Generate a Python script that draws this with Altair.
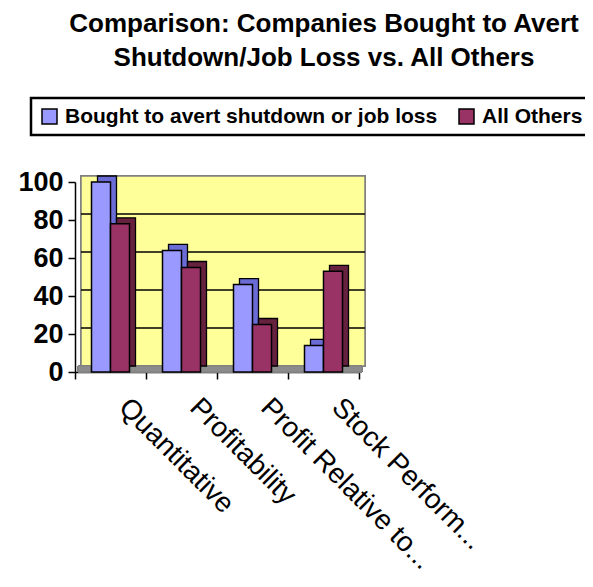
import altair as alt
import pandas as pd

categories = ["Quantitative", "Profitability", "Profit Relative to...", "Stock Perform..."]
series_names = ["Bought to avert shutdown or job loss", "All Others"]
bought = [100, 64, 46, 14]
others = [78, 55, 25, 53]
grid_values = [20, 40, 60, 80]
y_ticks = [0, 20, 40, 60, 80, 100]

front_colors = ["#9999FF", "#993366"]
side_colors = ["#6B6BD6", "#66213F"]

rows = []
for c, b, o in zip(categories, bought, others):
    rows.append({"category": c, "series": series_names[0], "value": b})
    rows.append({"category": c, "series": series_names[1], "value": o})
df = pd.DataFrame(rows)
grid_df = pd.DataFrame({"v": grid_values})

D = 6          # depth in pixels
SHIFT = 9.5    # half bar width in pixels
BAR = 0.2676   # bar width as fraction of category band

xscale = alt.Scale(domain=categories, paddingInner=0, paddingOuter=0)
yscale = alt.Scale(domain=[0, 100])

x_axis = alt.Axis(tickBand="extent", labelAngle=45, labelAlign="left",
                  labelBaseline="top", labelFontSize=28, labelFont="Liberation Sans",
                  labelColor="black", labelPadding=14, labelOffset=22,
                  tickSize=7, tickColor="black", tickWidth=1.5,
                  domainColor="black", domainWidth=1.5, grid=False,
                  labelLimit=400, title=None)
y_axis = alt.Axis(values=y_ticks, labelFontSize=27, labelFontWeight="bold",
                  labelFont="Liberation Sans", labelColor="black",
                  labelPadding=5, tickSize=7, tickColor="black", tickWidth=1.5,
                  domainColor="black", domainWidth=1.5, grid=False, title=None)

X = alt.X("category:N", sort=categories, scale=xscale, axis=x_axis)
Y = alt.Y("value:Q", scale=yscale, axis=y_axis)

wall = alt.Chart(df).mark_rect(
    fill="#FFFF99", stroke="#808080", strokeWidth=1.5,
    xOffset=D, x2Offset=D, yOffset=-D, y2Offset=-D
).encode(
    x=alt.value(0), x2=alt.value("width"), y=alt.value(0), y2=alt.value("height")
)

floor = alt.Chart(df).mark_rect(
    fill="#8C8C8C", stroke="#808080", strokeWidth=1,
    xOffset=D / 2, x2Offset=D / 2, y2Offset=-D
).encode(
    x=alt.value(0), x2=alt.value("width"), y=alt.value("height"), y2=alt.value("height")
)

grid = alt.Chart(grid_df).mark_rule(
    color="black", strokeWidth=1.5, xOffset=D, x2Offset=D, yOffset=-D
).encode(
    y=alt.Y("v:Q", scale=yscale, axis=y_axis),
    x=alt.value(0), x2=alt.value("width")
)

layers = [wall, floor, grid]
for i, s in enumerate(series_names):
    sign = -1 if i == 0 else 1
    back = alt.Chart(df).transform_filter(alt.datum.series == s).mark_bar(
        stroke="black", strokeWidth=1.3, fill=side_colors[i],
        width=alt.RelativeBandSize(BAR),
        xOffset=sign * SHIFT + D, yOffset=-D, y2Offset=-D
    ).encode(x=X, y=Y)
    layers.append(back)

for i, s in enumerate(series_names):
    sign = -1 if i == 0 else 1
    front = alt.Chart(df).transform_filter(alt.datum.series == s).mark_bar(
        stroke="black", strokeWidth=1.5,
        width=alt.RelativeBandSize(BAR), xOffset=sign * SHIFT
    ).encode(
        x=X, y=Y,
        color=alt.Color("series:N", sort=series_names,
                        scale=alt.Scale(domain=series_names, range=front_colors),
                        legend=alt.Legend(title=None, orient="none", legendX=-44, legendY=-84,
                                          direction="horizontal", symbolType="square",
                                          symbolSize=225, symbolStrokeColor="black",
                                          symbolStrokeWidth=1.5, labelFontSize=21,
                                          labelFontWeight="bold", labelFont="Liberation Sans",
                                          labelColor="black", labelOffset=5, columnPadding=18,
                                          padding=8, fillColor="white", strokeColor="black",
                                          labelLimit=600))
    )
    layers.append(front)

chart = alt.layer(*layers).properties(
    width=284, height=190,
    title=alt.TitleParams(
        text=["Comparison: Companies Bought to Avert", "Shutdown/Job Loss vs. All Others"],
        fontSize=26, fontWeight="bold", font="Liberation Sans", color="black",
        anchor="middle", frame="group", dx=107, offset=26, lineHeight=34
    ),
    autosize=alt.AutoSizeParams(type="none"),
    padding={"left": 67, "top": 174, "right": 226, "bottom": 207}
).configure_view(stroke=None).configure_legend(strokeWidth=2.5)

chart.save("out.html", embed_options={"renderer": "svg", "actions": False})
